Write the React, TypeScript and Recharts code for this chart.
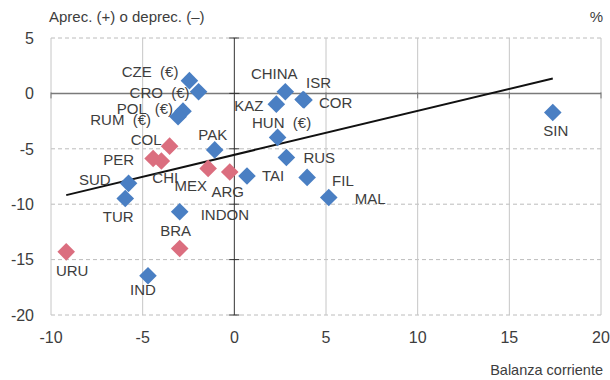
import React from 'react';
import { ScatterChart, Scatter, XAxis, YAxis, ReferenceLine, ReferenceDot } from 'recharts';

// ---- data ----
const blueNames = ['CZE  (€)', 'CRO  (€)', 'POL  (€)', 'RUM  (€)', 'PAK', 'TAI', 'SUD', 'TUR', 'CHINA', 'ISR', 'COR', 'KAZ', 'HUN  (€)', 'RUS', 'FIL', 'MAL', 'SIN', 'INDON', 'IND'];
const blueX = [-2.45, -1.95, -2.8, -3.07, -1.07, 0.69, -5.77, -5.95, 2.78, 3.75, 3.8, 2.29, 2.36, 2.84, 3.97, 5.15, 17.37, -2.98, -4.71];
const blueY = [1.15, 0.15, -1.6, -2.1, -5.1, -7.46, -8.12, -9.48, 0.15, -0.55, -0.6, -0.97, -3.97, -5.78, -7.58, -9.39, -1.72, -10.68, -16.46];

const redNames = ['COL', 'PER', 'CHI', 'MEX', 'ARG', 'BRA', 'URU'];
const redX = [-3.53, -4.43, -3.98, -1.43, -0.25, -2.98, -9.17];
const redY = [-4.76, -5.87, -6.1, -6.77, -7.1, -14.0, -14.3];

const trendX = [-9.17, 17.37];
const trendY = [-9.18, 1.35];

const xTicks = [-10, -5, 0, 5, 10, 15, 20];
const yTicks = [5, 0, -5, -10, -15, -20];

const titleLeft = 'Aprec. (+) o deprec. (–)';
const titleRight = '%';
const xTitle = 'Balanza corriente';

// ---- label placement (style, not data) ----
type Anchor = 'start' | 'middle' | 'end';
const labelPos: Record<string, [Anchor, number, number]> = {
  'CZE  (€)': ['end', -11, -9],
  'CRO  (€)': ['end', -9, 1],
  'POL  (€)': ['end', -10, -3],
  'RUM  (€)': ['end', -27, 3],
  COL: ['end', -8, -7],
  PER: ['end', -19, 1],
  CHI: ['start', -9, 17],
  MEX: ['end', -1, 17],
  ARG: ['middle', -2, 20],
  PAK: ['middle', -2, -15],
  TAI: ['start', 15, 0],
  SUD: ['end', -18, -4],
  TUR: ['middle', -7, 18],
  CHINA: ['middle', -11, -18],
  ISR: ['start', 3, -17],
  KAZ: ['end', -13, 1],
  COR: ['start', 15, 3],
  'HUN  (€)': ['middle', 4, -15],
  RUS: ['start', 17, 0],
  FIL: ['start', 25, 3],
  MAL: ['start', 26, 1],
  SIN: ['middle', 3, 18],
  INDON: ['start', 21, 3],
  BRA: ['middle', -4, -18],
  URU: ['middle', 6, 19],
  IND: ['middle', -5, 14],
};

const blueData = blueNames.map((n, i) => ({ name: n, x: blueX[i], y: blueY[i] }));
const redData = redNames.map((n, i) => ({ name: n, x: redX[i], y: redY[i] }));

const FONT = '"Liberation Sans", Arial, Helvetica, sans-serif';
const TEXT = '#3d3d3d';
const BLUE = '#4a7fc3';
const RED = '#db6e7f';

const makeDiamond = (color: string) => (props: any) => {
  const { cx, cy, payload } = props;
  if (cx == null || cy == null) return <g />;
  const r = 8.8;
  const lp = labelPos[payload.name] || ['start', 10, 0];
  return (
    <g>
      <polygon points={`${cx},${cy - r} ${cx + r},${cy} ${cx},${cy + r} ${cx - r},${cy}`} fill={color} />
      <text
        x={cx + lp[1]}
        y={cy + lp[2] + 5.4}
        textAnchor={lp[0]}
        fontSize={15}
        fontFamily={FONT}
        fill={TEXT}
        style={{ whiteSpace: 'pre' }}
      >
        {payload.name}
      </text>
    </g>
  );
};

const XTick = (props: any) => {
  const { x, payload } = props;
  return (
    <text x={x} y={343} textAnchor="middle" fontSize={16} fontFamily={FONT} fill={TEXT}>
      {payload.value}
    </text>
  );
};

const YTick = (props: any) => {
  const { y, payload } = props;
  return (
    <text x={34} y={y + 5.8} textAnchor="end" fontSize={16} fontFamily={FONT} fill={TEXT}>
      {payload.value}
    </text>
  );
};

const hTick = (p: any) => (
  <line x1={p.cx - 5} x2={p.cx + 5} y1={p.cy} y2={p.cy} stroke="#333" strokeWidth={1} />
);
const vTick = (p: any) => (
  <line x1={p.cx} x2={p.cx} y1={p.cy - 1} y2={p.cy + 5} stroke="#777" strokeWidth={1} />
);

export default function App() {
  return (
    <div style={{ position: 'absolute', left: 0, top: 0, width: 610, height: 380, background: '#fff' }}>
      <ScatterChart width={610} height={380} margin={{ top: 38, right: 9, bottom: 0, left: 0 }}>
        <XAxis
          type="number"
          dataKey="x"
          domain={[-10, 20]}
          ticks={xTicks}
          interval={0}
          axisLine={false}
          tickLine={false}
          tick={<XTick />}
          height={65}
          allowDataOverflow
        />
        <YAxis
          type="number"
          dataKey="y"
          domain={[-20, 5]}
          ticks={yTicks}
          interval={0}
          axisLine={false}
          tickLine={false}
          tick={<YTick />}
          width={51}
          allowDataOverflow
        />
        {yTicks.filter((t) => t !== 0).map((t) => (
          <ReferenceLine key={'h' + t} y={t} stroke="#bcbcbc" strokeDasharray="4 3" strokeWidth={1} />
        ))}
        {xTicks.filter((t) => t !== 0).map((t) => (
          <ReferenceLine key={'v' + t} x={t} stroke="#c6c6c6" strokeWidth={1} />
        ))}
        <ReferenceLine y={0} stroke="#7a7a7a" strokeWidth={1.5} />
        <ReferenceLine x={0} stroke="#333" strokeWidth={1} />
        {yTicks.map((t) => (
          <ReferenceDot key={'yt' + t} x={0} y={t} r={0} shape={hTick} />
        ))}
        {xTicks.filter((t) => t !== 0).map((t) => (
          <ReferenceDot key={'xt' + t} x={t} y={0} r={0} shape={vTick} />
        ))}
        <Scatter data={redData} shape={makeDiamond(RED)} isAnimationActive={false} />
        <Scatter data={blueData} shape={makeDiamond(BLUE)} isAnimationActive={false} />
        <ReferenceLine
          segment={[
            { x: trendX[0], y: trendY[0] },
            { x: trendX[1], y: trendY[1] },
          ]}
          stroke="#111"
          strokeWidth={2}
        />
      </ScatterChart>
      <div style={{ position: 'absolute', left: 49, top: 9, fontSize: 15, lineHeight: '15px', fontFamily: FONT, color: TEXT, whiteSpace: 'nowrap' }}>
        {titleLeft}
      </div>
      <div style={{ position: 'absolute', right: 7, top: 9, fontSize: 15, lineHeight: '15px', fontFamily: FONT, color: TEXT }}>
        {titleRight}
      </div>
      <div style={{ position: 'absolute', right: 7, top: 363, fontSize: 14.5, lineHeight: '14.5px', fontFamily: FONT, color: TEXT, whiteSpace: 'nowrap' }}>
        {xTitle}
      </div>
    </div>
  );
}
